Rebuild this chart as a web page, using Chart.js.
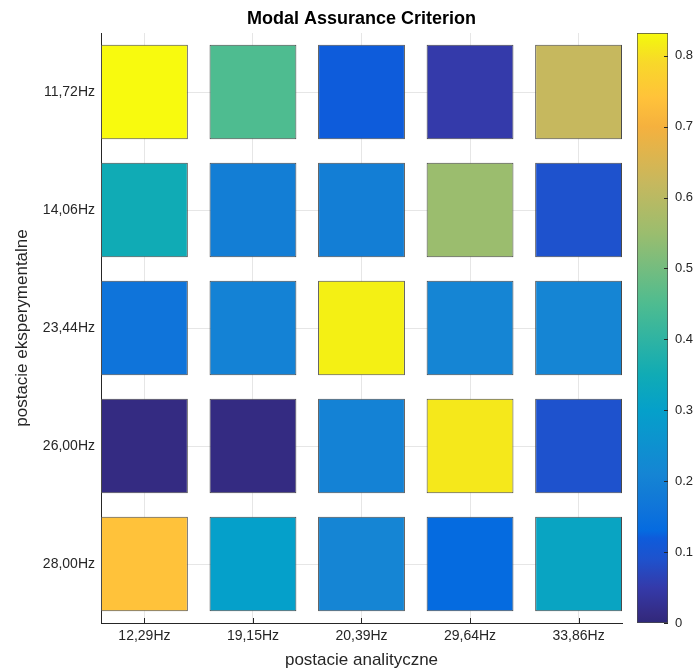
<!DOCTYPE html>
<html>
<head>
<meta charset="utf-8">
<script src="https://cdn.jsdelivr.net/npm/chart.js@4"></script>
<style>
  body { margin: 0; background: #fff; }
  .wrap { position: relative; width: 697px; height: 671px; }
  canvas { position: absolute; left: 0; top: 0; }
</style>
</head>
<body>
<div class="wrap">
  <canvas id="mac" width="697" height="671"></canvas>
  <canvas id="cbar" width="697" height="671"></canvas>
</div>
<script>
// analytical modes (columns) and experimental modes (rows)
const analyticLabels = ['12,29Hz', '19,15Hz', '20,39Hz', '29,64Hz', '33,86Hz'];
const experimentLabels = ['11,72Hz', '14,06Hz', '23,44Hz', '26,00Hz', '28,00Hz'];

// MAC values, one array per experimental mode
const row1172 = [0.832, 0.45, 0.12, 0.05, 0.62];
const row1406 = [0.35, 0.19, 0.19, 0.55, 0.09];
const row2344 = [0.16, 0.20, 0.82, 0.21, 0.21];
const row2600 = [0.01, 0.01, 0.20, 0.81, 0.09];
const row2800 = [0.74, 0.30, 0.21, 0.13, 0.32];
const macRows = [row1172, row1406, row2344, row2600, row2800];

const colorbarTicks = [0, 0.1, 0.2, 0.3, 0.4, 0.5, 0.6, 0.7, 0.8];

// parula-like colour map as it looks in the picture
const cmapStops = [
  [0.00, '#2e287a'], [0.01, '#342b82'], [0.05, '#343aaa'], [0.09, '#1e52cd'],
  [0.12, '#0e5cdb'], [0.13, '#056be0'], [0.16, '#0f74da'], [0.19, '#137ed5'],
  [0.21, '#1585d4'], [0.30, '#05a0ca'], [0.35, '#10abb5'], [0.45, '#4ebc90'],
  [0.55, '#9bbd6e'], [0.62, '#c6b85e'], [0.70, '#f5b13e'], [0.74, '#ffc23a'],
  [0.79, '#f8d82a'], [0.82, '#f4f014'], [0.832, '#f8fa0e']
];

function hexToRgb(h) {
  return [parseInt(h.substr(1, 2), 16), parseInt(h.substr(3, 2), 16), parseInt(h.substr(5, 2), 16)];
}

function colormap(v) {
  if (v <= cmapStops[0][0]) return cmapStops[0][1];
  for (let i = 1; i < cmapStops.length; i++) {
    if (v <= cmapStops[i][0]) {
      const a = cmapStops[i - 1], b = cmapStops[i];
      const t = (v - a[0]) / (b[0] - a[0]);
      const ca = hexToRgb(a[1]), cb = hexToRgb(b[1]);
      const c = ca.map((x, k) => Math.round(x + (cb[k] - x) * t));
      return 'rgb(' + c.join(',') + ')';
    }
  }
  return cmapStops[cmapStops.length - 1][1];
}

const cMin = 0;
const cMax = Math.max(...macRows.flat());
const SQUARE = 0.8; // square size in axis units

Chart.defaults.font.family = "'Liberation Sans', Arial, sans-serif";
Chart.defaults.color = '#262626';
Chart.defaults.animation = false;

// MATLAB style inward tick marks
const innerTicks = {
  id: 'innerTicks',
  afterDraw(chart, args, opts) {
    const ctx = chart.ctx;
    const area = chart.chartArea;
    ctx.save();
    ctx.strokeStyle = '#262626';
    ctx.lineWidth = 1;
    ctx.beginPath();
    if (opts.axis === 'x') {
      const s = chart.scales.x;
      s.ticks.forEach((t) => {
        const px = Math.round(s.getPixelForValue(t.value)) + 0.5;
        ctx.moveTo(px, area.bottom);
        ctx.lineTo(px, area.bottom - 5);
      });
    } else if (opts.axis === 'y') {
      const s = chart.scales.y;
      s.ticks.forEach((t) => {
        const py = Math.round(s.getPixelForValue(t.value)) + 0.5;
        ctx.moveTo(area.right, py);
        ctx.lineTo(area.right - 4, py);
      });
    }
    ctx.stroke();
    ctx.restore();
  }
};

// main MAC matrix
const datasets = analyticLabels.map((lab, c) => ({
  label: lab,
  data: experimentLabels.map(() => [c + 1 - SQUARE / 2, c + 1 + SQUARE / 2]),
  backgroundColor: macRows.map((row) => colormap(row[c])),
  borderColor: '#4a4a4a',
  borderWidth: 1,
  borderSkipped: false,
  grouped: false,
  barPercentage: SQUARE,
  categoryPercentage: 1
}));

new Chart(document.getElementById('mac'), {
  type: 'bar',
  data: { labels: experimentLabels, datasets: datasets },
  plugins: [innerTicks],
  options: {
    responsive: false,
    indexAxis: 'y',
    layout: { padding: { left: 0, right: 75, top: 0, bottom: 0 } },
    plugins: {
      legend: { display: false },
      tooltip: { enabled: false },
      innerTicks: { axis: 'x' },
      title: {
        display: true,
        text: 'Modal Assurance Criterion',
        fullSize: false,
        color: '#000',
        font: { size: 18, weight: 'bold' },
        padding: { top: 8, bottom: 3.4 }
      }
    },
    scales: {
      x: {
        type: 'linear',
        min: 1 - SQUARE / 2,
        max: analyticLabels.length + SQUARE / 2,
        afterBuildTicks: (s) => { s.ticks = analyticLabels.map((_, i) => ({ value: i + 1 })); },
        afterFit: (s) => { s.height = 48; },
        ticks: {
          callback: (v) => analyticLabels[v - 1],
          font: { size: 14 },
          padding: 5,
          maxRotation: 0
        },
        grid: { color: '#e6e6e6', drawTicks: false },
        border: { color: '#262626' },
        title: {
          display: true,
          text: 'postacie analityczne',
          font: { size: 17 },
          padding: { top: 0, bottom: 0 }
        }
      },
      y: {
        type: 'category',
        offset: true,
        afterFit: (s) => { s.width = 101; },
        ticks: { font: { size: 14 }, padding: 6 },
        grid: { color: '#e6e6e6', drawTicks: false, offset: false },
        border: { color: '#262626' },
        title: {
          display: true,
          text: 'postacie eksperymentalne',
          font: { size: 17 },
          padding: { top: 12, bottom: 0 }
        }
      }
    }
  }
});

// colour bar
new Chart(document.getElementById('cbar'), {
  type: 'bar',
  data: {
    labels: [''],
    datasets: [{
      data: [[cMin, cMax]],
      backgroundColor: (ctx) => {
        const chart = ctx.chart;
        if (!chart.chartArea) return '#ffffff';
        const y = chart.scales.y;
        const g = chart.ctx.createLinearGradient(0, y.getPixelForValue(cMin), 0, y.getPixelForValue(cMax));
        cmapStops.forEach(([v, col]) => {
          if (v <= cMax) g.addColorStop((v - cMin) / (cMax - cMin), col);
        });
        return g;
      },
      borderColor: '#4a4a4a',
      borderWidth: 1,
      borderSkipped: false,
      barPercentage: 1,
      categoryPercentage: 1
    }]
  },
  plugins: [innerTicks],
  options: {
    responsive: false,
    events: [],
    layout: { padding: { left: 637, right: 0, top: 33, bottom: 48 } },
    plugins: { legend: { display: false }, tooltip: { enabled: false }, innerTicks: { axis: 'y' } },
    scales: {
      x: { display: false },
      y: {
        position: 'right',
        min: cMin,
        max: cMax,
        afterBuildTicks: (s) => { s.ticks = colorbarTicks.map((v) => ({ value: v })); },
        afterFit: (s) => { s.width = 29; },
        ticks: {
          callback: (v) => (v === 0 ? '0' : v.toFixed(1)),
          font: { size: 13 },
          padding: 7
        },
        grid: { display: false, drawTicks: false },
        border: { display: false }
      }
    }
  }
});
</script>
</body>
</html>
